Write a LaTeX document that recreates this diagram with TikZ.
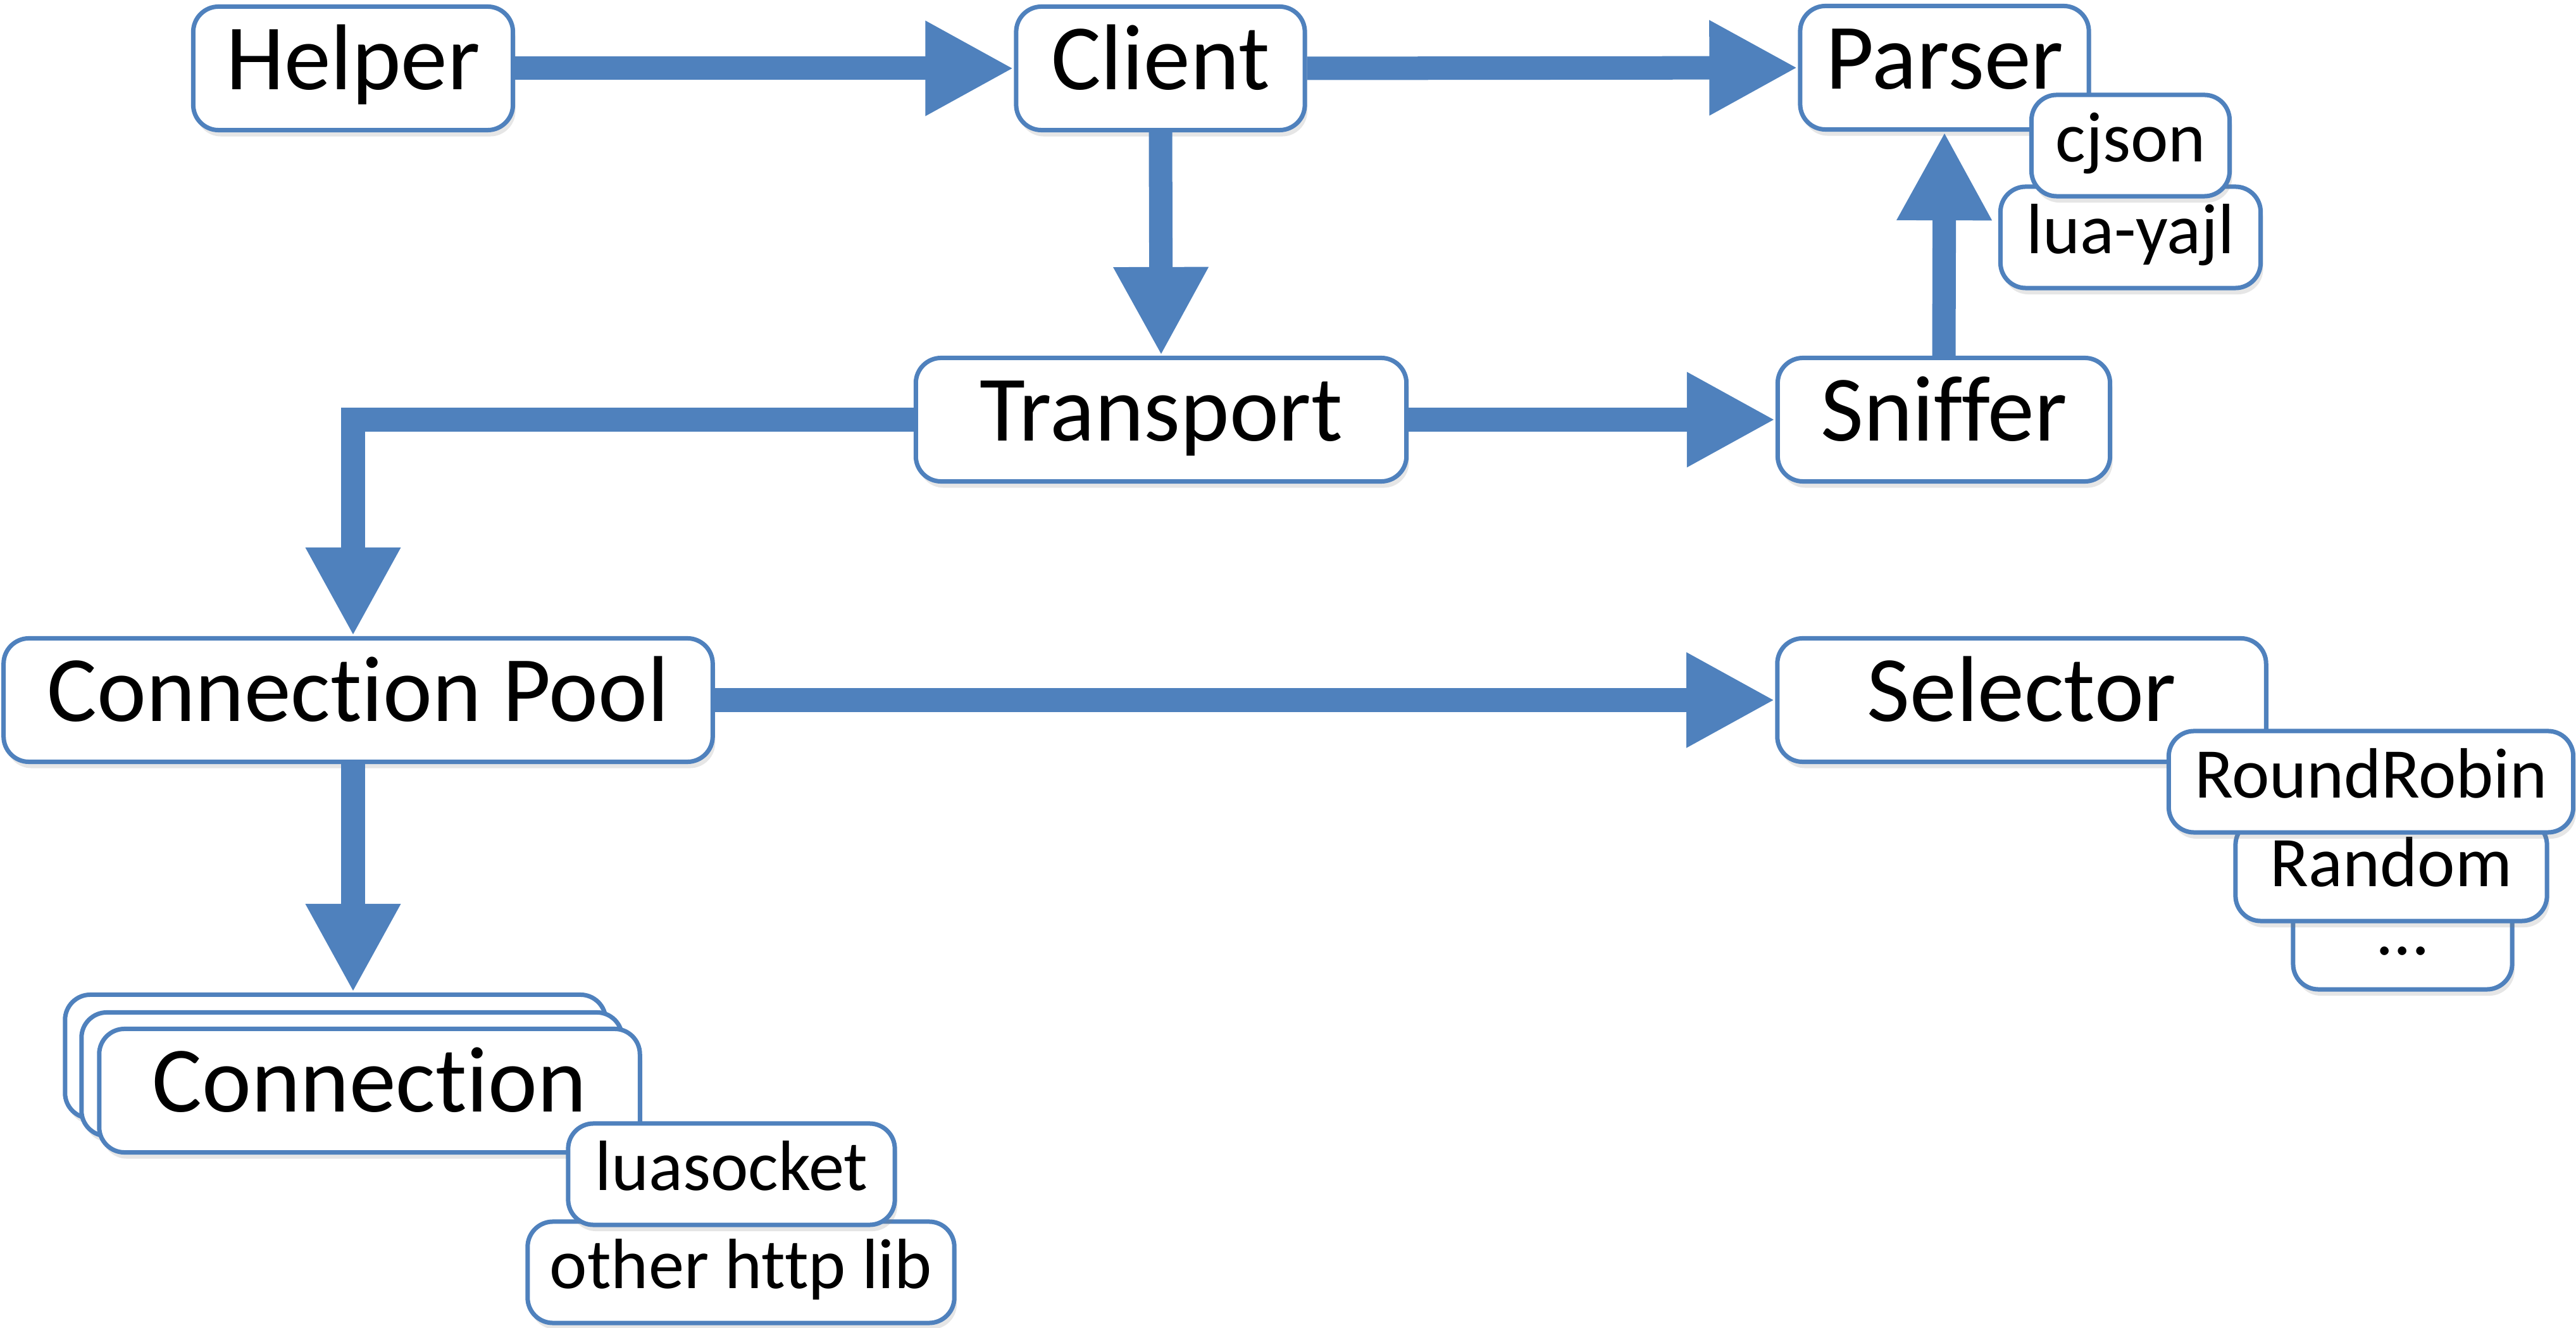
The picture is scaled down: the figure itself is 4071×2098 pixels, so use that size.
\documentclass[tikz,border=0pt]{standalone}
\usepackage{fontspec}
\setmainfont{Carlito}[Ligatures=NoCommon]
\usetikzlibrary{arrows.meta,shadows}
\definecolor{officeblue}{HTML}{4F81BD}

\begin{document}
\begin{tikzpicture}[x=0.01cm,y=-0.01cm,
  box/.style={draw=officeblue,line width=0.07cm,fill=white,rounded corners=0.4cm,inner sep=0pt,
    drop shadow={shadow xshift=0.04cm,shadow yshift=-0.1cm,opacity=0.2}},
  big/.style={box,minimum height=1.95cm,font=\fontsize{42}{50}\selectfont,text height=1.04cm,text depth=0.37cm},
  small/.style={box,minimum height=1.6cm,font=\fontsize{32}{38}\selectfont,text height=0.79cm,text depth=0.28cm},
  flow/.style={draw=officeblue,line width=0.37cm,-{Triangle[length=1.4cm,width=1.4cm]}}]
\useasboundingbox (0,0) rectangle (4071,2098);
% top row
\node[big,minimum width=5.05cm] (helper) at (558,108) {Helper};
\node[big,minimum width=4.56cm] (client) at (1834,108) {Client};
\node[big,minimum width=4.56cm] (parser) at (3073,107) {Parser};
\node[small,minimum width=4.11cm] (luayajl) at (3367,375) {lua-yajl};
\node[small,minimum width=3.13cm] (cjson) at (3367,230) {cjson};
% middle row
\node[big,minimum width=7.75cm] (transport) at (1835,663) {Transport};
\node[big,minimum width=5.25cm] (sniffer) at (3072,663) {Sniffer};
% pool and selector
\node[big,minimum width=11.2cm] (pool) at (566,1106) {Connection Pool};
\node[big,minimum width=7.72cm] (selector) at (3195,1106) {Selector};
\node[small,minimum width=3.46cm] (dots) at (3797,1483) {...};
\node[small,minimum width=4.92cm] (random) at (3779,1375) {Random};
\node[small,minimum width=6.39cm] (roundrobin) at (3747,1235) {RoundRobin};
% connection stack
\node[big,minimum width=8.54cm] (connA) at (530,1669) {};
\node[big,minimum width=8.54cm] (connB) at (556,1697) {};
\node[big,minimum width=8.54cm] (conn) at (584,1723) {Connection};
\node[small,minimum width=6.74cm] (otherhttp) at (1171,2010) {other http lib};
\node[small,minimum width=5.16cm] (luasocket) at (1156,1855) {luasocket};
% arrows
\draw[flow] (helper.east) -- (client.west);
\draw[flow] (client.east) -- (parser.west);
\draw[flow] (client.south) -- (transport.north);
\draw[flow] (transport.east) -- (sniffer.west);
\draw[flow] (sniffer.north) -- (parser.south);
\draw[flow] (transport.west) -| ([xshift=-0.08cm]pool.north);
\draw[flow] (pool.east) -- (selector.west);
\draw[flow] ([xshift=-0.08cm]pool.south) -- ([xshift=-0.08cm]pool.south |- connA.north);
\end{tikzpicture}
\end{document}
